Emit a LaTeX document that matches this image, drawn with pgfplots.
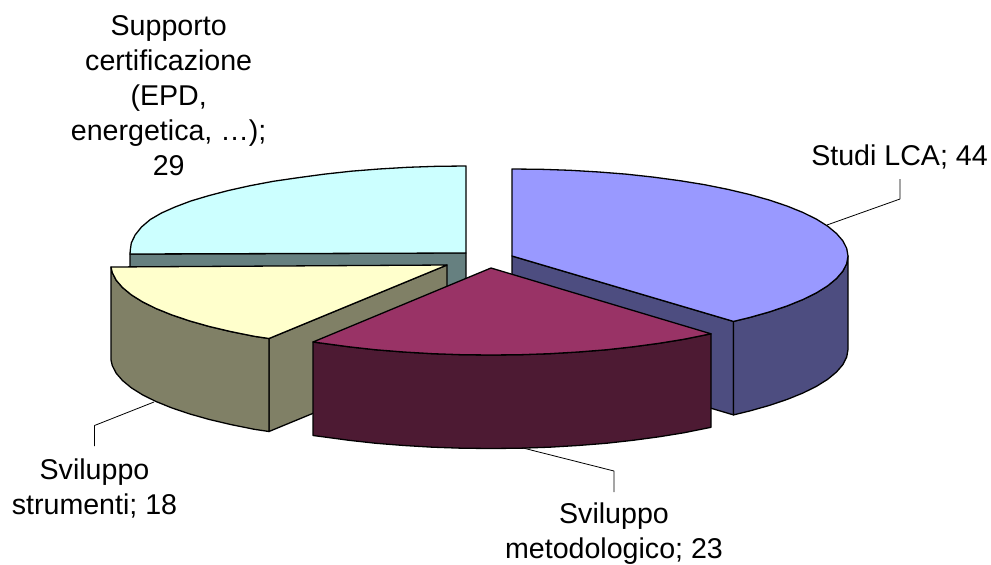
\documentclass[border=0pt]{standalone}
\usepackage{fontspec}
\setmainfont{Liberation Sans}
\usepackage{pgfplots}
\pgfplotsset{compat=1.18}
\definecolor{bluetop}{HTML}{9999FF}
\definecolor{blueside}{HTML}{4D4D80}
\definecolor{maroontop}{HTML}{993366}
\definecolor{maroonside}{HTML}{4D1A33}
\definecolor{yellowtop}{HTML}{FFFFCC}
\definecolor{yellowside}{HTML}{808066}
\definecolor{cyantop}{HTML}{CCFFFF}
\definecolor{cyanside}{HTML}{668080}
\tikzset{
  pie/.style={draw=black, line width=1.3pt},
  leader/.style={draw=black, line width=0.8pt},
  lab/.style={font=\fontsize{28.6}{35}\selectfont, align=center, text=black, inner sep=0pt},
}
\begin{document}
\begin{tikzpicture}
\useasboundingbox (0,0) rectangle (991pt,565pt);
\begin{axis}[
  anchor=south west, at={(0,0)},
  scale only axis, width=991pt, height=565pt,
  xmin=0, xmax=991, ymin=0, ymax=565, y dir=reverse,
  hide axis, clip=false,
  every axis plot/.append style={no markers, line join=round},
]
% leader lines
\addplot[leader] coordinates {(827,225) (900,199) (900,179)};
\addplot[leader] coordinates {(523,448) (614,471) (614,492)};
\addplot[leader] coordinates {(154,402) (94.5,425.5) (94.5,446)};
% cyan slice
\addplot[pie, fill=cyanside] coordinates {(130,254) (466,253) (466,346) (130,346)} -- cycle;
\addplot[pie, fill=cyantop] coordinates {(466,253) (130,254) (130.3,250) (131.3,243) (135.1,235) (141.5,227) (150.3,219.5) (161.5,213) (175,207) (190.8,201) (208.6,195.7) (228.4,190.5) (250,185.7) (273.3,181.3) (298,177.7) (324,174.2) (351.1,171.2) (379,169) (407.7,167.3) (436.7,166.3) (466,166)} -- cycle;
% yellow slice
\addplot[pie, fill=yellowside] coordinates {(269,338.5) (447,265) (447,358) (269,431.5)} -- cycle;
\addplot[pie, fill=yellowside] coordinates {(111,267) (112.3,272.6) (116.1,280.1) (122.5,287.5) (131.3,294.8) (142.5,301.8) (156,308.5) (171.8,314.9) (189.6,320.9) (209.4,326.5) (231,331.6) (254.3,336.3) (269,338.5) (269,431.5) (254.3,429.3) (231,424.6) (209.4,419.5) (189.6,413.9) (171.8,407.9) (156,401.5) (142.5,394.8) (131.3,387.8) (122.5,380.5) (116.1,373.1) (112.3,365.6) (111,360)} -- cycle;
\addplot[pie, fill=yellowtop] coordinates {(447,265) (111,267) (112.3,272.6) (116.1,280.1) (122.5,287.5) (131.3,294.8) (142.5,301.8) (156,308.5) (171.8,314.9) (189.6,320.9) (209.4,326.5) (231,331.6) (254.3,336.3) (269,338.5)} -- cycle;
% blue slice
\addplot[pie, fill=blueside] coordinates {(512,256) (733.5,321.4) (733.5,414.9) (512,349.5)} -- cycle;
\addplot[pie, fill=blueside] coordinates {(848,256) (846.7,263.6) (842.9,271.1) (836.5,278.5) (827.7,285.8) (816.5,292.8) (803,299.5) (787.2,305.9) (769.4,311.9) (749.6,317.5) (733.5,321.4) (733.5,414.9) (749.6,411) (769.4,405.4) (787.2,399.4) (803,393) (816.5,386.3) (827.7,379.3) (836.5,372) (842.9,364.6) (846.7,357) (848,349.5)} -- cycle;
\addplot[pie, fill=bluetop] coordinates {(512,256) (512,169) (541.3,169.3) (570.3,170.3) (599,172) (626.9,174.2) (654,177.2) (680,180.7) (704.7,184.7) (728,189.4) (749.6,194.5) (769.4,200.1) (787.2,206.1) (803,212.5) (816.5,219.2) (827.7,226.2) (836.5,233.5) (842.9,240.9) (846.7,248.4) (848,256) (846.7,263.6) (842.9,271.1) (836.5,278.5) (827.7,285.8) (816.5,292.8) (803,299.5) (787.2,305.9) (769.4,311.9) (749.6,317.5) (733.5,321.4)} -- cycle;
% maroon slice
\addplot[pie, fill=maroonside] coordinates {(313,342) (323,343.3) (349,346.8) (376.1,349.8) (404,352) (432.7,353.7) (461.7,354.7) (491,355) (520.3,354.7) (549.3,353.7) (578,352) (605.9,349.8) (633,346.8) (659,343.3) (683.7,339.3) (707,334.6) (711,333.8) (711,427.3) (707,428.1) (683.7,432.8) (659,436.8) (633,440.3) (605.9,443.3) (578,445.5) (549.3,447.2) (520.3,448.2) (491,448.5) (461.7,448.2) (432.7,447.2) (404,445.5) (376.1,443.3) (349,440.3) (323,436.8) (313,435.5)} -- cycle;
\addplot[pie, fill=maroontop] coordinates {(491,268) (313,342) (323,343.3) (349,346.8) (376.1,349.8) (404,352) (432.7,353.7) (461.7,354.7) (491,355) (520.3,354.7) (549.3,353.7) (578,352) (605.9,349.8) (633,346.8) (659,343.3) (683.7,339.3) (707,334.6) (711,333.8)} -- cycle;
% labels
\node[lab, anchor=center] at (axis cs:168.7,96) {Supporto\\certificazione\\(EPD,\\energetica, …);\\29};
\node[lab, anchor=base] at (axis cs:899.5,165) {Studi LCA; 44};
\node[lab, anchor=center] at (axis cs:614,533.5) {Sviluppo\\metodologico; 23};
\node[lab, anchor=center] at (axis cs:94.5,488) {Sviluppo\\strumenti; 18};
\end{axis}
\end{tikzpicture}
\end{document}
